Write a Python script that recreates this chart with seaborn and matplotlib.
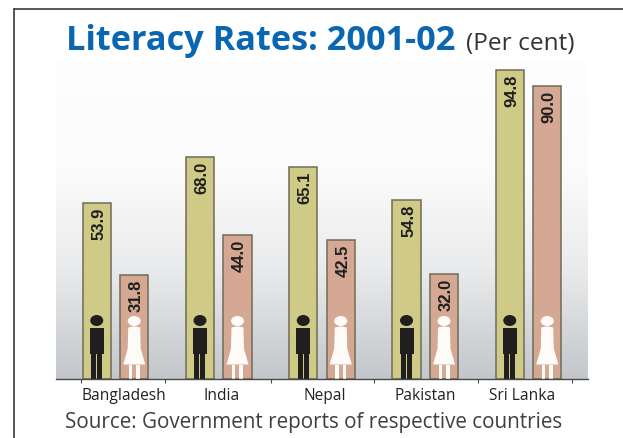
import matplotlib
matplotlib.use("Agg")
import matplotlib.pyplot as plt
from matplotlib.colors import LinearSegmentedColormap
from matplotlib.lines import Line2D
from matplotlib.patches import Ellipse, Polygon
from matplotlib.transforms import Affine2D
import numpy as np
import pandas as pd
import seaborn as sns

# Literacy rates by country
countries = ["Bangladesh", "India", "Nepal", "Pakistan", "Sri Lanka"]
male_rates = [53.9, 68.0, 65.1, 54.8, 94.8]
female_rates = [31.8, 44.0, 42.5, 32.0, 90.0]

title_main = "Literacy Rates: 2001-02"
title_unit = "(Per cent)"
source_note = "Source: Government reports of respective countries"

# Axis furniture: separators between countries and label anchors
separator_ticks = [-0.334, 0.479, 1.506, 2.504, 3.51, 4.42]
label_anchors = [0.08, 1.03, 2.03, 3.0, 3.94]

W, H = 623, 438
LEFT, RIGHT, TOP, BASE = 56, 588, 60, 378.5

sns.set_theme(style="white")
plt.rcParams["font.family"] = ["Open Sans", "DejaVu Sans"]

df = pd.DataFrame({
    "country": countries * 2,
    "rate": male_rates + female_rates,
    "sex": ["Male"] * len(countries) + ["Female"] * len(countries),
})

fig = plt.figure(figsize=(W / 100, H / 100), dpi=100, facecolor="white")
ax = fig.add_axes([LEFT / W, 1 - BASE / H, (RIGHT - LEFT) / W, (BASE - TOP) / H])

# Backdrop fading from white to cool grey towards the baseline
fade = LinearSegmentedColormap.from_list(
    "fade",
    [(0.0, "#fefefe"), (0.35, "#fbfbfb"), (0.65, "#eaebec"), (1.0, "#c3c7cb")],
)
ax.imshow(np.linspace(0, 1, 256)[:, None], cmap=fade, extent=[0, 1, 0, 1],
          transform=ax.transAxes, aspect="auto", zorder=0)

sns.barplot(
    data=df, x="country", y="rate", hue="sex",
    palette={"Male": "#cfcb87", "Female": "#d4a893"}, saturation=1,
    width=0.726, gap=0.25, edgecolor="#6f6b58", linewidth=1.1,
    legend=False, ax=ax, zorder=2,
)

for container in ax.containers:
    labels = ax.bar_label(container, fmt="%.1f", rotation=90, padding=-3.5,
                          fontsize=12, fontweight="bold",
                          family="Liberation Sans", color="#1f1f1f", zorder=4)
    for label in labels:
        label.set_va("top")
        label.set_ha("center")
        dx, dy = label.xyann
        label.xyann = (dx + 1.5, dy)

ax.set_xlim(-0.576, 4.576)
ax.set_ylim(0, (BASE - TOP) / 3.254)

sns.despine(ax=ax, left=True)
ax.spines["bottom"].set_color("#4a4a4a")
ax.spines["bottom"].set_linewidth(1.0)
ax.spines["bottom"].set_zorder(5)
ax.set_xlabel("")
ax.set_ylabel("")
ax.set_yticks([])
ax.set_xticks(separator_ticks)
ax.set_xticklabels([])
ax.tick_params(axis="x", which="major", bottom=True, length=3, width=0.8, color="#4a4a4a")
ax.set_xticks(label_anchors, minor=True)
ax.set_xticklabels(countries, minor=True, fontsize=11.2, color="#222222")
ax.tick_params(axis="x", which="minor", bottom=False, pad=3)


def pixel_transform(xc):
    """Place pixel-sized glyph outlines at a bar's foot."""
    fig.canvas.draw()
    px, py = ax.transData.transform((xc, 0))
    return Affine2D().translate(px, py)


def draw_man(xc):
    t = pixel_transform(xc)
    c = "#211e1f"
    ax.add_patch(Ellipse((0, 58), 13, 11, fc=c, ec="none", transform=t, zorder=3))
    ax.add_patch(Polygon([(-7, 51), (7, 51), (7, 25), (-7, 25)], fc=c, ec="none", transform=t, zorder=3))
    ax.add_patch(Polygon([(-5.5, 25), (-0.5, 25), (-0.5, 0), (-5.5, 0)], fc=c, ec="none", transform=t, zorder=3))
    ax.add_patch(Polygon([(0.5, 25), (5.5, 25), (5.5, 0), (0.5, 0)], fc=c, ec="none", transform=t, zorder=3))


def draw_woman(xc):
    t = pixel_transform(xc)
    c = "#fdfbf8"
    ax.add_patch(Ellipse((0, 57.5), 13, 10, fc=c, ec="none", transform=t, zorder=3))
    ax.add_patch(Polygon([(-6, 51), (-1.5, 52), (1.5, 52), (6, 51), (6.5, 30), (11, 14),
                          (-11, 14), (-6.5, 30)], fc=c, ec="none", transform=t, zorder=3))
    ax.add_patch(Polygon([(-5.5, 14), (-2, 14), (-2, 0), (-5.5, 0)], fc=c, ec="none", transform=t, zorder=3))
    ax.add_patch(Polygon([(2, 14), (5.5, 14), (5.5, 0), (2, 0)], fc=c, ec="none", transform=t, zorder=3))


# Each pictogram stands at the foot of its own bar
for male_bar, female_bar in zip(ax.containers[0], ax.containers[1]):
    draw_man(male_bar.get_x() + male_bar.get_width() / 2)
    draw_woman(female_bar.get_x() + female_bar.get_width() / 2)

# Page frame on the left and top
frame = "#3a3a3a"
fig.add_artist(Line2D([14 / W, 14 / W], [0, 1 - 9 / H], color=frame, lw=1.2))
fig.add_artist(Line2D([14 / W, 1], [1 - 9 / H, 1 - 9 / H], color=frame, lw=1.2))

fig.text(66 / W, 1 - 49.5 / H, title_main, fontsize=24.7, fontweight="bold",
         color="#0a66b0", ha="left", va="baseline")
fig.text(466 / W, 1 - 49.5 / H, title_unit, fontsize=17.6, color="#333333",
         ha="left", va="baseline")
fig.text(65 / W, 1 - 428 / H, source_note, fontsize=14.9, color="#3f3f3f",
         ha="left", va="baseline")

fig.savefig("out.png", dpi=100, facecolor="white")
